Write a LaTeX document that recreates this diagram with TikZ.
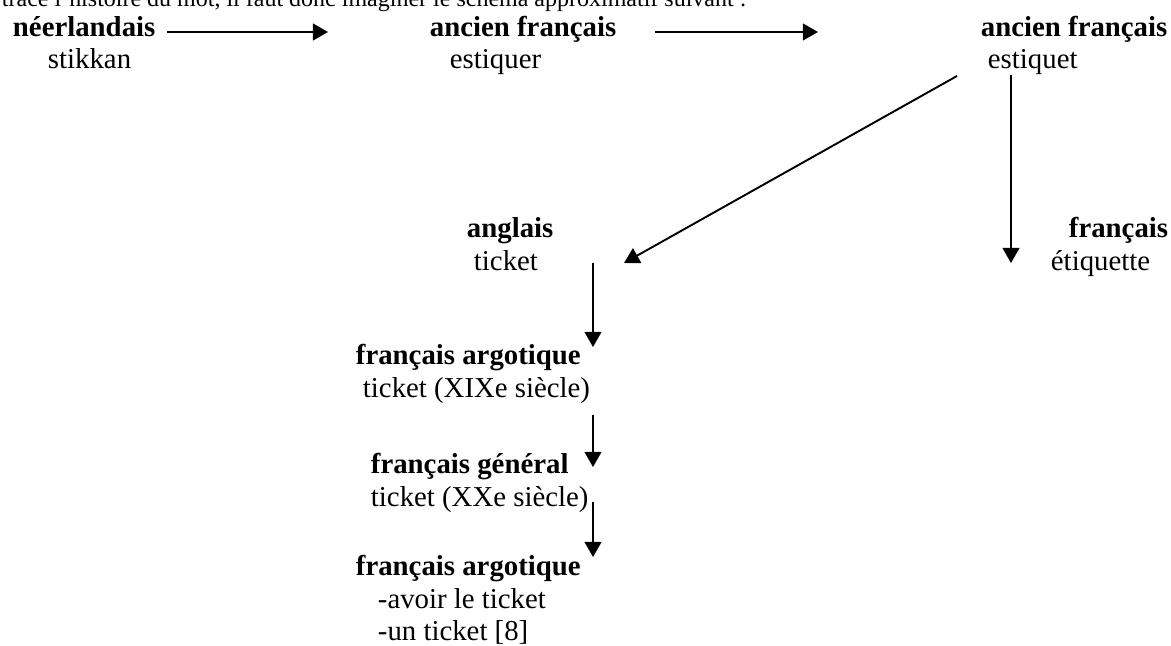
\documentclass[tikz,border=0pt]{standalone}
\usepackage{fontspec}
\setmainfont{Liberation Serif}
\usetikzlibrary{arrows.meta}
\tikzset{>={Triangle[length=6.3pt,width=7pt]}}
\tikzset{lang/.style={anchor=base west,inner sep=0pt,font=\fontsize{12}{14}\selectfont\bfseries},
  word/.style={anchor=base west,inner sep=0pt,font=\fontsize{12}{14}\selectfont}}

\begin{document}
\begin{tikzpicture}[x=0.4167pt,y=-0.4167pt,line width=0.8pt]
\useasboundingbox (0,0) rectangle (1171,646);
\clip (0,0) rectangle (1171,646);
\node[word,font=\fontsize{10}{12}\selectfont] (intro) at (1,7) {trace l'histoire du mot, il faut donc imaginer le schéma approximatif suivant :};
% top row
\node[lang] (neer) at (12,37) {néerlandais};
\node[word] (stikkan) at (47,69) {stikkan};
\node[lang] (anc1) at (429,37) {ancien français};
\node[word] (estiquer) at (449,69) {estiquer};
\node[lang] (anc2) at (980,37) {ancien français};
\node[word] (estiquet) at (987,69) {estiquet};
\coordinate (a1s) at (167,32);
\coordinate (a1e) at (328,32);
\coordinate (a2s) at (655,32);
\coordinate (a2e) at (818,32);
\path (a1s) edge[draw=black,->] (a1e);
\path (a2s) edge[draw=black,->] (a2e);
% right branch
\node[lang] (fr) at (1068,238) {français};
\node[word] (etiq) at (1050,271) {étiquette};
\coordinate (vr) at (1011,75);
\coordinate (vre) at (1011,263);
\path (vr) edge[draw=black,->] (vre);
% left branch
\node[lang] (angl) at (466,238) {anglais};
\node[word] (ticket) at (473,271) {ticket};
\coordinate (ds) at (957,76);
\coordinate (de) at (624,263);
\path (ds) edge[draw=black,->] (de);
\node[lang] (arg1) at (355,365) {français argotique};
\node[word] (t19) at (362,398) {ticket (XIXe siècle)};
\node[lang] (gen) at (370,474) {français général};
\node[word] (t20) at (370,507) {ticket (XXe siècle)};
\node[lang] (arg2) at (355,576) {français argotique};
\node[word] (avoir) at (377,609) {-avoir le ticket};
\node[word] (un) at (377,641) {-un ticket [8]};
\coordinate (b1s) at (593,263);
\coordinate (b1e) at (593,347);
\coordinate (b2s) at (593,415);
\coordinate (b2e) at (593,467);
\coordinate (b3s) at (593,502);
\coordinate (b3e) at (593,557);
\path (b1s) edge[draw=black,->] (b1e);
\path (b2s) edge[draw=black,->] (b2e);
\path (b3s) edge[draw=black,->] (b3e);
\end{tikzpicture}
\end{document}
